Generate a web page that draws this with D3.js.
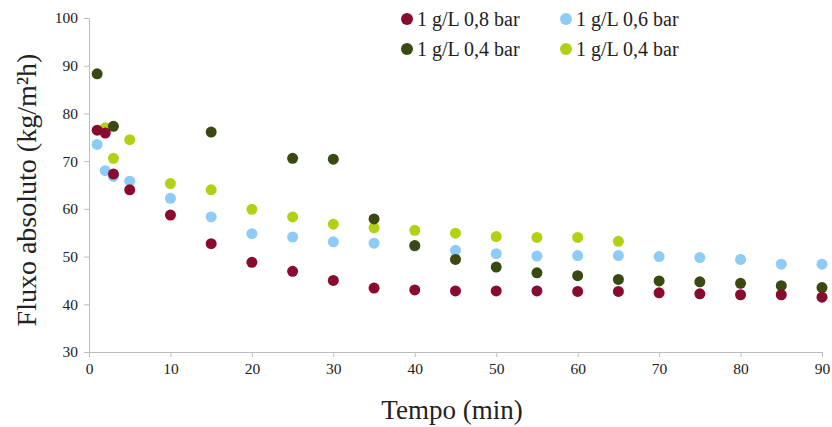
<!DOCTYPE html>
<html>
<head>
<meta charset="utf-8">
<script src="https://cdn.jsdelivr.net/npm/d3@7"></script>
<style>
  body { margin: 0; background: #fff; }
  text { font-family: "Liberation Serif", "DejaVu Serif", serif; fill: #222; }
</style>
</head>
<body>
<script>
// data
const redT   = [1, 2, 3, 5, 10, 15, 20, 25, 30, 35, 40, 45, 50, 55, 60, 65, 70, 75, 80, 85, 90];
const redV   = [76.5, 75.9, 67.3, 64.0, 58.7, 52.7, 48.8, 46.9, 45.0, 43.4, 43.0, 42.8, 42.8, 42.8, 42.7, 42.7, 42.4, 42.2, 42.0, 42.0, 41.5];
const blueT  = [1, 2, 3, 5, 10, 15, 20, 25, 30, 35, 40, 45, 50, 55, 60, 65, 70, 75, 80, 85, 90];
const blueV  = [73.5, 68.0, 66.8, 65.8, 62.2, 58.3, 54.8, 54.1, 53.1, 52.8, 52.2, 51.3, 50.6, 50.1, 50.2, 50.2, 50.0, 49.8, 49.4, 48.4, 48.4];
const dkT    = [1, 3, 15, 25, 30, 35, 40, 45, 50, 55, 60, 65, 70, 75, 80, 85, 90];
const dkV    = [88.3, 77.3, 76.1, 70.6, 70.4, 57.9, 52.3, 49.4, 47.8, 46.6, 46.0, 45.2, 44.9, 44.7, 44.4, 43.9, 43.5];
const limeT  = [2, 3, 5, 10, 15, 20, 25, 30, 35, 40, 45, 50, 55, 60, 65];
const limeV  = [77.0, 70.6, 74.5, 65.3, 64.0, 59.9, 58.3, 56.8, 56.0, 55.5, 54.9, 54.2, 54.0, 54.0, 53.2];
const seriesNames = ["1 g/L 0,8 bar", "1 g/L 0,6 bar", "1 g/L 0,4 bar", "1 g/L 0,4 bar"];
const xTicks = [0, 10, 20, 30, 40, 50, 60, 70, 80, 90];
const yTicks = [30, 40, 50, 60, 70, 80, 90, 100];

const colors = ["#8a0b30", "#8dccf6", "#3a4912", "#b4d014"];

let width = 832, height = 427;
let svg = d3.select("body").append("svg")
    .attr("width", width)
    .attr("height", height);

let x = d3.scaleLinear().domain([0, 90]).range([89, 822]);
let y = d3.scaleLinear().domain([30, 100]).range([352, 18]);

        //axes
let xAxis = svg.append("g")
    .attr("transform", `translate(0,${y(30)})`)
    .call(d3.axisBottom(x).tickValues(xTicks).tickSize(5).tickPadding(6));
let yAxis = svg.append("g")
    .attr("transform", `translate(${x(0)},0)`)
    .call(d3.axisLeft(y).tickValues(yTicks).tickSize(5).tickPadding(6));

[xAxis, yAxis].forEach(a => {
    a.selectAll("path, line").attr("stroke", "#bdbdbd");
    a.selectAll("text").style("font-size", "15.5px").attr("fill", "#222");
});

svg.append("text")
    .attr("x", 452).attr("y", 419)
    .attr("text-anchor", "middle")
    .style("font-size", "27px")
    .text("Tempo (min)");

svg.append("text")
    .attr("transform", "translate(36,190) rotate(-90)")
    .attr("text-anchor", "middle")
    .style("font-size", "28px")
    .text("Fluxo absoluto (kg/m²h)");

        //points
let series = [
    {t: redT, v: redV},
    {t: blueT, v: blueV},
    {t: dkT, v: dkV},
    {t: limeT, v: limeV}
];
let drawOrder = [3, 1, 2, 0];
drawOrder.forEach(i => {
    let s = series[i];
    svg.append("g").selectAll("circle")
        .data(s.t.map((t, j) => [t, s.v[j]]))
        .enter()
        .append("circle")
            .attr("cx", d => x(d[0]))
            .attr("cy", d => y(d[1]))
            .attr("r", 5.5)
            .attr("fill", colors[i]);
});

        //legend
let legendPos = [[407, 19], [566, 19], [407, 49], [566, 49]];
seriesNames.forEach((name, i) => {
    let g = svg.append("g").attr("transform", `translate(${legendPos[i][0]},${legendPos[i][1]})`);
    g.append("circle").attr("r", 6).attr("fill", colors[i]);
    g.append("text")
        .attr("x", 10).attr("y", 6.5)
        .style("font-size", "20px")
        .text(name);
});
</script>
</body>
</html>
